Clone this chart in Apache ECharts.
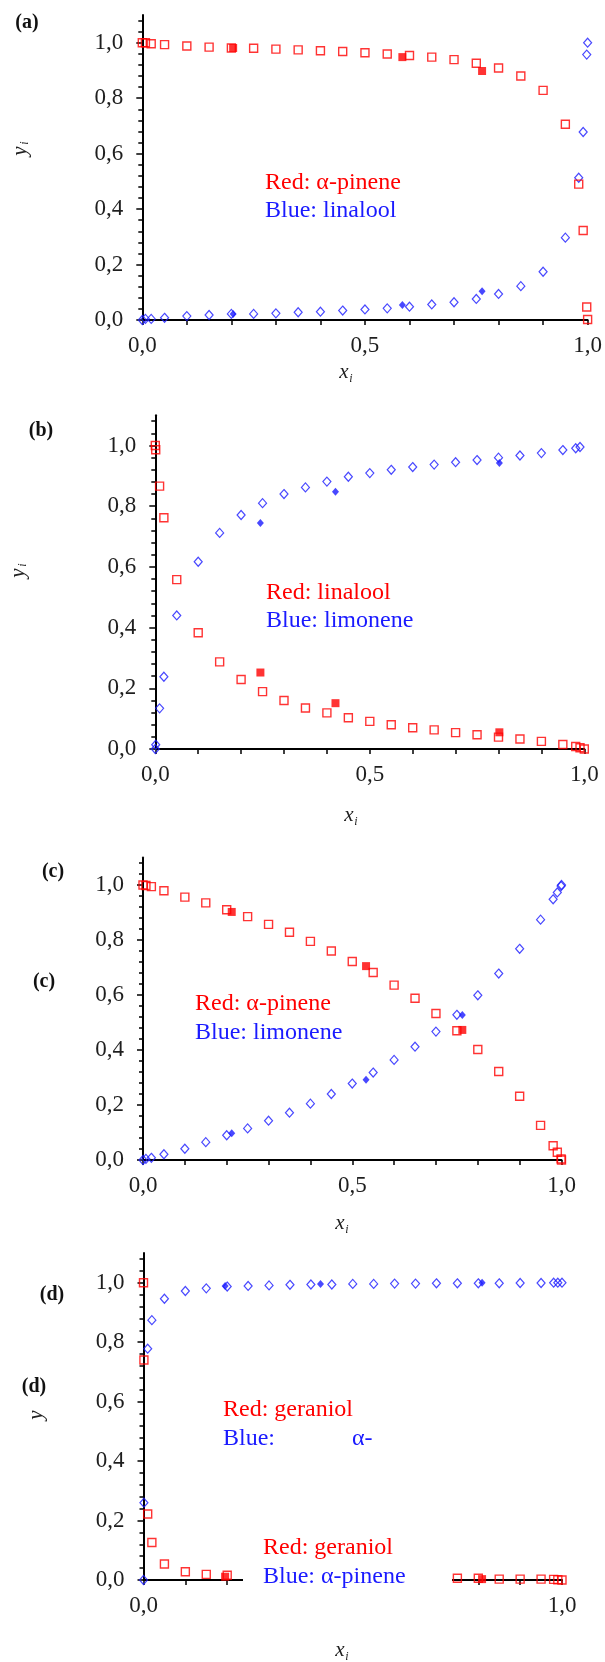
<!DOCTYPE html>
<html>
<head>
<meta charset="utf-8">
<script src="https://cdn.jsdelivr.net/npm/echarts@6/dist/echarts.min.js"></script>
<style>
  html, body { margin: 0; padding: 0; background: #fff; }
  #chart { width: 605px; height: 1662px; }
</style>
</head>
<body>
<div id="chart"></div>
<script>
// ---------- data: mole fractions x_i (liquid) vs y_i (vapour) ----------
// (a) α-pinene (red) / linalool (blue)
const xA      = [0, 0.007, 0.02, 0.05, 0.1, 0.15, 0.2, 0.25, 0.3, 0.35, 0.4, 0.45, 0.5, 0.55, 0.6, 0.65, 0.7, 0.75, 0.8, 0.85, 0.9, 0.95, 0.98, 0.99, 0.998, 1.0];
const redA    = [1.0, 1.0, 0.996, 0.993, 0.988, 0.984, 0.981, 0.980, 0.977, 0.974, 0.971, 0.968, 0.964, 0.959, 0.954, 0.948, 0.939, 0.926, 0.909, 0.880, 0.828, 0.706, 0.490, 0.323, 0.047, 0.002];
const blueA   = [0, 0.004, 0.004, 0.008, 0.014, 0.018, 0.022, 0.022, 0.024, 0.028, 0.030, 0.034, 0.038, 0.042, 0.048, 0.056, 0.064, 0.076, 0.094, 0.122, 0.174, 0.297, 0.513, 0.678, 0.957, 1.0];
const xAexp   = [0.204, 0.584, 0.763];
const redAexp = [0.981, 0.948, 0.898];
const blueAexp= [0.022, 0.054, 0.104];

// (b) linalool (red) / limonene (blue)
const xB      = [0, 0.001, 0.01, 0.02, 0.05, 0.1, 0.15, 0.2, 0.25, 0.3, 0.35, 0.4, 0.45, 0.5, 0.55, 0.6, 0.65, 0.7, 0.75, 0.8, 0.85, 0.9, 0.95, 0.98, 0.99, 1.0];
const redB    = [1.0, 0.986, 0.866, 0.762, 0.558, 0.383, 0.287, 0.229, 0.189, 0.160, 0.135, 0.119, 0.103, 0.091, 0.080, 0.070, 0.063, 0.054, 0.047, 0.039, 0.033, 0.025, 0.015, 0.008, 0.004, 0.0];
const blueB   = [0, 0.014, 0.134, 0.238, 0.440, 0.617, 0.712, 0.771, 0.810, 0.840, 0.862, 0.881, 0.897, 0.909, 0.920, 0.929, 0.937, 0.945, 0.952, 0.960, 0.967, 0.975, 0.985, 0.991, 0.995, null];
const xBexp   = [0.245, 0.42, 0.802];
const redBexp = [0.252, 0.151, 0.055];
const blueBexp= [0.745, 0.848, 0.942];

// (c) α-pinene (red) / limonene (blue)
const xC      = [0, 0.007, 0.02, 0.05, 0.1, 0.15, 0.2, 0.25, 0.3, 0.35, 0.4, 0.45, 0.5, 0.55, 0.6, 0.65, 0.7, 0.75, 0.8, 0.85, 0.9, 0.95, 0.98, 0.99, 0.999, 1.0];
const redC    = [1.0, 0.998, 0.994, 0.979, 0.956, 0.935, 0.910, 0.885, 0.857, 0.828, 0.795, 0.760, 0.722, 0.682, 0.636, 0.588, 0.533, 0.470, 0.402, 0.322, 0.232, 0.126, 0.052, 0.028, 0.004, 0.0];
const blueC   = [0, 0.004, 0.008, 0.021, 0.041, 0.065, 0.090, 0.115, 0.143, 0.172, 0.205, 0.240, 0.278, 0.318, 0.364, 0.412, 0.467, 0.528, 0.599, 0.678, 0.768, 0.874, 0.948, 0.973, 0.996, 1.0];
const xCexp   = [0.212, 0.533, 0.763];
const redCexp = [0.902, 0.705, 0.473];
const blueCexp= [0.097, 0.292, 0.527];

// (d) geraniol (red) / α-pinene (blue)
const xD      = [0, 0.001, 0.01, 0.02, 0.05, 0.1, 0.15, 0.2, 0.25, 0.3, 0.35, 0.4, 0.45, 0.5, 0.55, 0.6, 0.65, 0.7, 0.75, 0.8, 0.85, 0.9, 0.95, 0.98, 0.99, 1.0];
const redD    = [1.0, 0.74, 0.222, 0.126, 0.054, 0.028, 0.019, 0.016, null, null, null, null, null, null, null, null, null, null, 0.006, 0.006, 0.003, 0.003, 0.003, 0.002, 0.001, 0.0];
const blueD   = [0, 0.26, 0.778, 0.874, 0.946, 0.972, 0.981, 0.987, 0.989, 0.991, 0.993, 0.994, 0.994, 0.996, 0.996, 0.997, 0.997, 0.998, 0.998, 0.998, 0.998, 0.999, 0.999, 1.0, 1.0, 1.0];
const xDexp   = [0.195, 0.423, 0.809];
const redDexp = [0.011, null, 0.003];
const blueDexp= [0.989, 0.996, 1.0];

// axis tick values
const xTicks      = [0, 0.1, 0.2, 0.3, 0.4, 0.5, 0.6, 0.7, 0.8, 0.9, 1.0];
const yMajorTicks = [0, 0.2, 0.4, 0.6, 0.8, 1.0];
const yMinorTicks = [0.04, 0.08, 0.12, 0.16, 0.24, 0.28, 0.32, 0.36, 0.44, 0.48, 0.52, 0.56, 0.64, 0.68, 0.72, 0.76, 0.84, 0.88, 0.92, 0.96, 1.04, 1.08];
const xLabelsABC  = [0, 0.5, 1.0];
const xLabelsD    = [0, 1.0];

// ---------- styling / layout ----------
const RED = '#ff0000';
const BLUE = '#1a1aff';
const SERIF = '"Liberation Serif", "Times New Roman", serif';
const LABEL_COLOR = '#1e1e1e';

const panels = [
  { left: 142.3, width: 445.7, y0: 320,  unit: 277.3, xLabels: xLabelsABC,
    x: xA, red: redA, blue: blueA, xe: xAexp, rede: redAexp, bluee: blueAexp },
  { left: 155.3, width: 429.0, y0: 749,  unit: 303.5, xLabels: xLabelsABC,
    x: xB, red: redB, blue: blueB, xe: xBexp, rede: redBexp, bluee: blueBexp },
  { left: 143.0, width: 418.5, y0: 1160, unit: 275.0, xLabels: xLabelsABC,
    x: xC, red: redC, blue: blueC, xe: xCexp, rede: redCexp, bluee: blueCexp },
  { left: 143.5, width: 418.5, y0: 1580, unit: 297.3, xLabels: xLabelsD,
    x: xD, red: redD, blue: blueD, xe: xDexp, rede: redDexp, bluee: blueDexp }
];

const YMAX = 1.1;
const comma = v => v.toFixed(1).replace('.', ',');
const near = (v, list) => list.some(t => Math.abs(v - t) < 1e-6);
const pairs = (xs, ys) => xs.map((x, i) => [x, ys[i]]).filter(p => p[1] !== null && p[1] !== undefined);

const grid = [], xAxis = [], yAxis = [], series = [];

panels.forEach((p, k) => {
  grid.push({
    left: p.left, width: p.width,
    top: p.y0 - YMAX * p.unit, height: YMAX * p.unit,
    containLabel: false
  });

  xAxis.push({
    gridIndex: k, type: 'value', min: 0, max: 1, interval: 0.1,
    axisLine: { show: true, onZero: false, lineStyle: { color: '#000', width: 2 } },
    axisTick: { show: true, length: 5, customValues: xTicks, lineStyle: { color: '#000', width: 1.5 } },
    axisLabel: {
      show: true, margin: 14, fontFamily: SERIF, fontSize: 23, color: LABEL_COLOR,
      formatter: v => near(v, p.xLabels) ? comma(v) : ''
    },
    splitLine: { show: false }
  });

  // main y axis: line, major ticks and labels
  yAxis.push({
    gridIndex: k, type: 'value', min: 0, max: YMAX, interval: 0.2, position: 'left',
    axisLine: { show: true, onZero: false, lineStyle: { color: '#000', width: 2 } },
    axisTick: { show: true, length: 6, customValues: yMajorTicks, lineStyle: { color: '#000', width: 1.5 } },
    axisLabel: {
      show: true, margin: 19, fontFamily: SERIF, fontSize: 23, color: LABEL_COLOR,
      customValues: yMajorTicks,
      formatter: v => near(v, yMajorTicks) ? comma(v) : ''
    },
    splitLine: { show: false }
  });
  // companion y axis carrying only the minor ticks
  yAxis.push({
    gridIndex: k, type: 'value', min: 0, max: YMAX, interval: 0.04, position: 'left', offset: 0,
    axisLine: { show: false },
    axisTick: { show: true, length: 4, customValues: yMinorTicks, lineStyle: { color: '#000', width: 1.5 } },
    axisLabel: { show: false },
    splitLine: { show: false }
  });

  const base = { type: 'scatter', xAxisIndex: k, yAxisIndex: 2 * k, clip: false, silent: true, animation: false };
  series.push(Object.assign({}, base, {
    name: 'blue-model-' + k, symbol: 'diamond', symbolSize: [8, 9],
    itemStyle: { color: 'rgba(255,255,255,0)', borderColor: BLUE, borderWidth: 1.2 },
    data: pairs(p.x, p.blue)
  }));
  series.push(Object.assign({}, base, {
    name: 'red-model-' + k, symbol: 'rect', symbolSize: 8,
    itemStyle: { color: 'rgba(255,255,255,0)', borderColor: RED, borderWidth: 1.4 },
    data: pairs(p.x, p.red)
  }));
  series.push(Object.assign({}, base, {
    name: 'blue-exp-' + k, symbol: 'diamond', symbolSize: [7, 8],
    itemStyle: { color: BLUE },
    data: pairs(p.xe, p.bluee)
  }));
  series.push(Object.assign({}, base, {
    name: 'red-exp-' + k, symbol: 'rect', symbolSize: 8,
    itemStyle: { color: RED },
    data: pairs(p.xe, p.rede)
  }));
});

// ---------- texts ----------
const txt = (text, x, y, opts) => Object.assign({
  type: 'text', x: x, y: y, z: 101, silent: true,
  style: Object.assign({
    text: text, font: '24px ' + SERIF, fill: '#000', align: 'left', verticalAlign: 'middle'
  }, (opts && opts.style) || {})
}, (opts && opts.el) || {});

const bold = (text, x, y) => txt(text, x, y, { style: { font: 'bold 20px ' + SERIF, fill: '#111', align: 'center' } });
const red = (text, x, y) => txt(text, x, y, { style: { fill: RED } });
const blue = (text, x, y) => txt(text, x, y, { style: { fill: BLUE } });

const xName = (x, y) => ({
  type: 'group', x: x, y: y, silent: true, z: 101,
  children: [
    { type: 'text', x: 0, y: 0, style: { text: 'x', font: 'italic 21px ' + SERIF, fill: '#222', align: 'center', verticalAlign: 'middle' } },
    { type: 'text', x: 7, y: 7, style: { text: 'i', font: 'italic 12px ' + SERIF, fill: '#222', align: 'center', verticalAlign: 'middle' } }
  ]
});
const yName = (x, y, sub) => ({
  type: 'group', x: x, y: y, rotation: Math.PI / 2, silent: true, z: 101,
  children: [
    { type: 'text', x: 0, y: 0, style: { text: 'y', font: 'italic 21px ' + SERIF, fill: '#222', align: 'center', verticalAlign: 'middle' } }
  ].concat(sub ? [
    { type: 'text', x: 8, y: 5, style: { text: 'i', font: 'italic 12px ' + SERIF, fill: '#222', align: 'center', verticalAlign: 'middle' } }
  ] : [])
});

const graphic = [
  // panel tags
  bold('(a)', 27, 23),
  bold('(b)', 41, 431),
  bold('(c)', 53, 872),
  bold('(c)', 44, 982),
  bold('(d)', 52, 1295),
  bold('(d)', 34, 1387),

  // axis names
  yName(20, 151, true),
  yName(18, 573, true),
  yName(36, 1415, false),
  xName(344, 372),
  xName(349, 815),
  xName(340, 1223),
  xName(340, 1650),

  // annotations
  red('Red: α-pinene', 265, 183),
  blue('Blue: linalool', 265, 211),
  red('Red: linalool', 266, 593),
  blue('Blue: limonene', 266, 621),
  red('Red: α-pinene', 195, 1004),
  blue('Blue: limonene', 195, 1033),
  red('Red: geraniol', 223, 1410),
  blue('Blue:', 223, 1439),
  blue('α-', 352, 1439),

  // white label box over the lower part of panel (d)
  { type: 'rect', z: 100, silent: true,
    shape: { x: 243, y: 1526, width: 209, height: 98 },
    style: { fill: '#ffffff' } },
  red('Red: geraniol', 263, 1548),
  blue('Blue: α-pinene', 263, 1577)
];

const chart = echarts.init(document.getElementById('chart'), null, { renderer: 'canvas', width: 605, height: 1662 });
chart.setOption({
  animation: false,
  backgroundColor: '#ffffff',
  grid: grid,
  xAxis: xAxis,
  yAxis: yAxis,
  series: series,
  graphic: graphic
});
</script>
</body>
</html>
